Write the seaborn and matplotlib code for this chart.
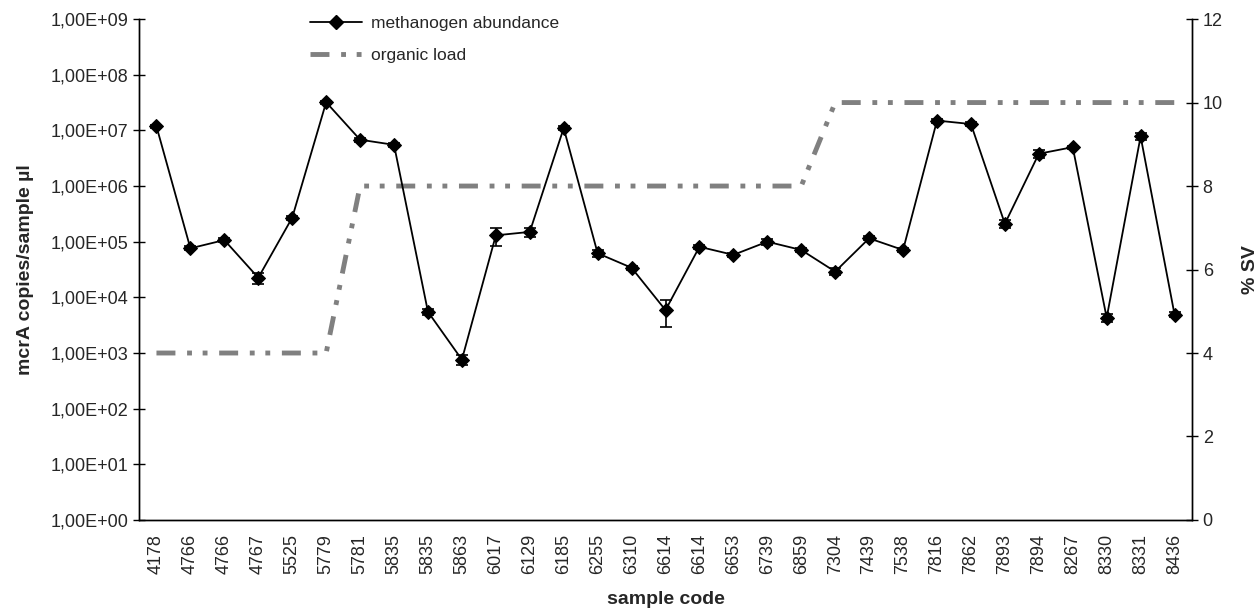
import numpy as np
import pandas as pd
import seaborn as sns
import matplotlib.pyplot as plt
from matplotlib.ticker import FixedLocator, FuncFormatter
from matplotlib.lines import Line2D

# sample codes on the x axis (duplicates are separate samples)
sample_codes = ["4178", "4766", "4766", "4767", "5525", "5779", "5781", "5835", "5835", "5863",
                "6017", "6129", "6185", "6255", "6310", "6614", "6614", "6653", "6739", "6859",
                "7304", "7439", "7538", "7816", "7862", "7893", "7894", "8267", "8330", "8331", "8436"]

# mcrA copies / sample ul
abundance = [1.18e7, 7.6e4, 1.07e5, 2.25e4, 2.7e5, 3.2e7, 6.8e6, 5.5e6, 5.5e3, 7.6e2,
             1.3e5, 1.5e5, 1.1e7, 6.2e4, 3.4e4, 5.9e3, 8.1e4, 5.8e4, 1.0e5, 7.1e4,
             2.9e4, 1.15e5, 7.1e4, 1.5e7, 1.3e7, 2.1e5, 3.8e6, 5.0e6, 4.3e3, 7.8e6, 4.9e3]

# standard deviation of the replicates
abundance_err = [8e5, 6e3, 8e3, 5e3, 2e4, 2e6, 5e5, 4e5, 7e2, 1.5e2,
                 4.7e4, 2.8e4, 8e5, 8e3, 3e3, 3e3, 6e3, 5e3, 1.2e4, 6e3,
                 4e3, 9e3, 6e3, 1.2e6, 1e6, 3.5e4, 6e5, 3e5, 7e2, 1.2e6, 5e2]

# organic load in % SV (secondary axis)
organic_load = [4, 4, 4, 4, 4, 4, 8, 8, 8, 8, 8, 8, 8, 8, 8, 8, 8, 8, 8, 8,
                10, 10, 10, 10, 10, 10, 10, 10, 10, 10, 10]

df = pd.DataFrame({
    "pos": np.arange(len(sample_codes)),
    "code": sample_codes,
    "abundance": abundance,
    "err": abundance_err,
    "load": organic_load,
})

sns.set_theme(style="white")
plt.rcParams["font.family"] = ["Liberation Sans", "DejaVu Sans"]

LOAD_DASH = [3.9, 2.4, 1.0, 2.2, 1.0, 2.4]  # long dash, dot, dot

fig = plt.figure(figsize=(12.59, 6.15), dpi=100)
ax = fig.add_axes([0.1108, 0.1545, 0.8356, 0.8145])
ax2 = ax.twinx()

# organic load (secondary axis)
sns.lineplot(data=df, x="pos", y="load", ax=ax2, color="#808080", linewidth=3.5,
             dashes=False, legend=False)
ax2.lines[0].set_dashes(LOAD_DASH)
ax2.set_ylim(0, 12)
ax2.set_yticks(np.arange(0, 13, 2))
ax2.set_ylabel("% SV", fontsize=14, fontweight="bold", labelpad=14)

# methanogen abundance (primary axis)
ax.set_zorder(ax2.get_zorder() + 1)
ax.patch.set_visible(False)
ax.errorbar(df["pos"], df["abundance"], yerr=df["err"], fmt="none", ecolor="black",
            elinewidth=1.2, capsize=4, capthick=1.2)
sns.lineplot(data=df, x="pos", y="abundance", ax=ax, color="black", linewidth=1.3,
             marker="D", markersize=7, markeredgecolor="black", legend=False)
ax.set_yscale("log")
ax.set_ylim(1, 1e9)
ax.set_xlim(-0.5, len(sample_codes) - 0.5)
ax.yaxis.set_major_locator(FixedLocator([10.0 ** k for k in range(10)]))
ax.yaxis.set_minor_locator(FixedLocator([]))
ax.yaxis.set_major_formatter(FuncFormatter(lambda v, p: "1,00E+%02d" % round(np.log10(v))))

# category axis: ticks between categories, labels at centres
ax.set_xticks(np.arange(-0.5, len(sample_codes), 1.0))
ax.set_xticklabels([])
ax.set_xticks(df["pos"], minor=True)
ax.set_xticklabels(sample_codes, minor=True, rotation=90, fontsize=13)
ax.tick_params(axis="x", which="major", direction="inout", length=9, width=1, color="black")
ax.tick_params(axis="x", which="minor", length=0, pad=10)
ax.tick_params(axis="y", direction="inout", length=9, width=1, labelsize=13, color="black")
ax2.tick_params(axis="y", direction="inout", length=9, width=1, labelsize=13, color="black")

ax.set_xlabel("sample code", fontsize=14, fontweight="bold", labelpad=12)
ax.set_ylabel("mcrA copies/sample µl", fontsize=14, fontweight="bold", labelpad=12)

for a in (ax, ax2):
    a.spines["top"].set_visible(False)
    for side in ("left", "right", "bottom"):
        a.spines[side].set_color("black")
        a.spines[side].set_linewidth(1)

handles = [
    Line2D([], [], color="black", linewidth=1.3, marker="D", markersize=7),
    Line2D([], [], color="#808080", linewidth=3.5, dashes=LOAD_DASH),
]
fig.legend(handles, ["methanogen abundance", "organic load"], loc="upper left",
           bbox_to_anchor=(0.234, 1.0), frameon=False, fontsize=12.5,
           handlelength=3.0, labelspacing=1.0, handletextpad=0.5)

fig.savefig("out.png", dpi=100)
